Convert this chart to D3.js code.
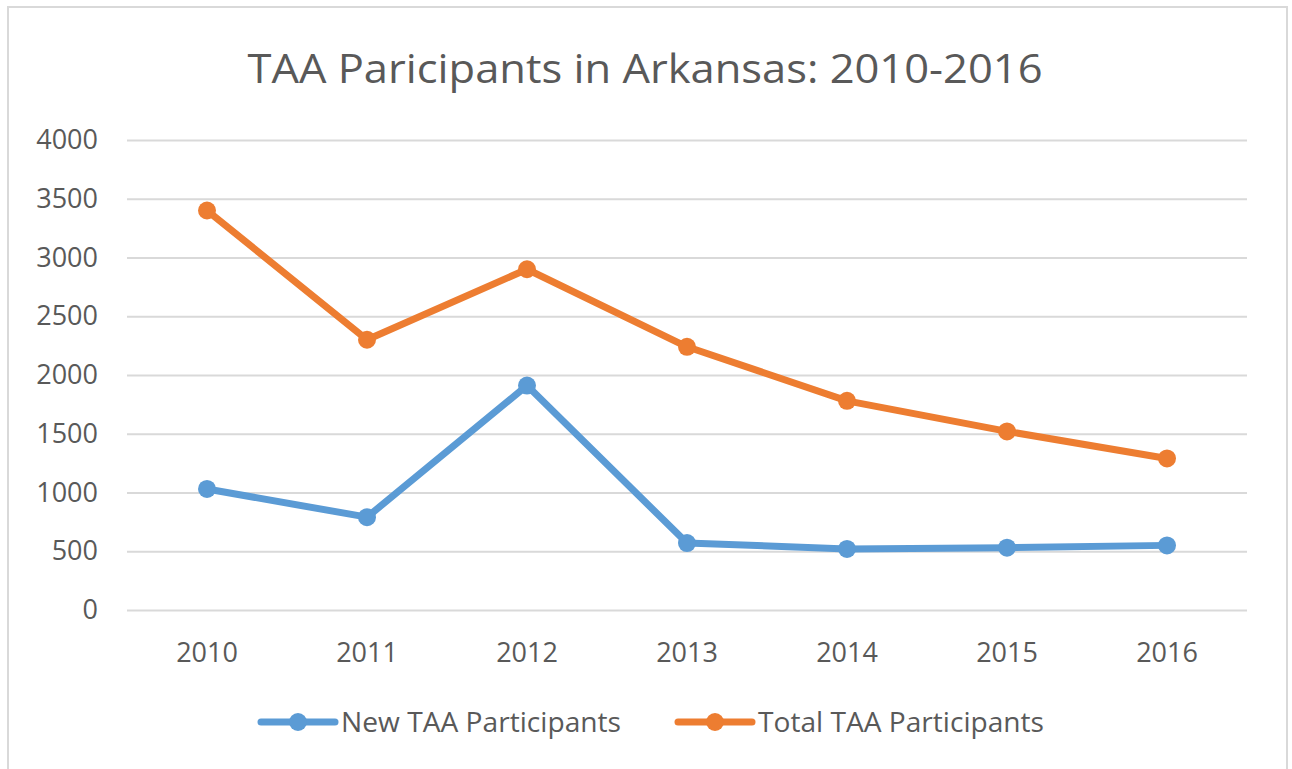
<!DOCTYPE html>
<html>
<head>
<meta charset="utf-8">
<script src="https://cdn.jsdelivr.net/npm/d3@7"></script>
<style>
  body { margin: 0; background: #fff; }
  text { font-family: "Open Sans", sans-serif; fill: #595959; }
</style>
</head>
<body>
<div id="vis1"></div>
<script>
// data
const YEARS = ["2010", "2011", "2012", "2013", "2014", "2015", "2016"];
const NEW_TAA = [1030, 790, 1910, 570, 520, 530, 550];
const TOTAL_TAA = [3400, 2300, 2900, 2240, 1780, 1520, 1290];
const Y_TICKS = [0, 500, 1000, 1500, 2000, 2500, 3000, 3500, 4000];
const SERIES_NAMES = ["New TAA Participants", "Total TAA Participants"];

//frame
const FRAME_WIDTH = 1292;
const FRAME_HEIGHT = 769;
const MARGINS = {left: 127, right: 45, top: 140, bottom: 159};
const VIS_WIDTH = FRAME_WIDTH - MARGINS.left - MARGINS.right;
const VIS_HEIGHT = FRAME_HEIGHT - MARGINS.top - MARGINS.bottom;

const COLORS = ["#5B9BD5", "#ED7D31"];

const FRAME1 = d3.select("#vis1")
                  .append("svg")
                    .attr("width", FRAME_WIDTH)
                    .attr("height", FRAME_HEIGHT);

// outer chart border
FRAME1.append("rect")
    .attr("x", 8).attr("y", 7)
    .attr("width", 1279).attr("height", 780)
    .attr("fill", "#fff")
    .attr("stroke", "#d9d9d9")
    .attr("stroke-width", 2);

// title
FRAME1.append("text")
    .attr("x", 645)
    .attr("y", 83)
    .attr("text-anchor", "middle")
    .attr("font-size", "40px")
    .attr("textLength", 795)
    .attr("lengthAdjust", "spacingAndGlyphs")
    .text("TAA Paricipants in Arkansas: 2010-2016");

//scales
const X_SCALE = d3.scaleBand()
                .domain(YEARS)
                .range([0, VIS_WIDTH]);
const Y_SCALE = d3.scaleLinear()
                .domain([0, 4000])
                .range([VIS_HEIGHT, 0]);

const plot = FRAME1.append("g")
    .attr("transform", "translate(" + MARGINS.left + "," + MARGINS.top + ")");

// gridlines via y axis
const yAxis = plot.append("g")
    .call(d3.axisLeft(Y_SCALE).tickValues(Y_TICKS)
            .tickFormat(d3.format("d"))
            .tickSize(-VIS_WIDTH).tickPadding(29));
yAxis.select(".domain").remove();
yAxis.selectAll(".tick line")
    .attr("stroke", "#d9d9d9")
    .attr("stroke-width", 2);
yAxis.selectAll(".tick text")
    .attr("font-size", "27px")
    .attr("font-family", "Open Sans, sans-serif")
    .attr("fill", "#595959");

// x axis labels
const xAxis = plot.append("g")
    .attr("transform", "translate(0," + VIS_HEIGHT + ")")
    .call(d3.axisBottom(X_SCALE).tickSize(0).tickPadding(33));
xAxis.select(".domain").remove();
xAxis.selectAll(".tick text")
    .attr("font-size", "27px")
    .attr("font-family", "Open Sans, sans-serif")
    .attr("fill", "#595959");

const xc = (i) => X_SCALE(YEARS[i]) + X_SCALE.bandwidth() / 2;

const line = d3.line()
    .x((d, i) => xc(i))
    .y((d) => Y_SCALE(d));

[NEW_TAA, TOTAL_TAA].forEach((vals, s) => {
  plot.append("path")
      .datum(vals)
      .attr("d", line)
      .attr("fill", "none")
      .attr("stroke", COLORS[s])
      .attr("stroke-width", 7)
      .attr("stroke-linejoin", "round");
  plot.selectAll(".pt" + s)
      .data(vals)
      .enter()
      .append("circle")
        .attr("cx", (d, i) => xc(i))
        .attr("cy", (d) => Y_SCALE(d))
        .attr("r", 9)
        .attr("fill", COLORS[s]);
});

// legend
const LEGEND_X = [261, 678];
const LEGEND_TEXT_W = [280, 286];
const legend = FRAME1.selectAll(".legend")
    .data(SERIES_NAMES)
    .enter()
    .append("g")
      .attr("transform", (d, i) => "translate(" + LEGEND_X[i] + ",722)");
legend.append("line")
    .attr("x1", 0).attr("x2", 74)
    .attr("y1", 0).attr("y2", 0)
    .attr("stroke", (d, i) => COLORS[i])
    .attr("stroke-width", 7)
    .attr("stroke-linecap", "round");
legend.append("circle")
    .attr("cx", 37).attr("cy", 0).attr("r", 9)
    .attr("fill", (d, i) => COLORS[i]);
legend.append("text")
    .attr("x", 80)
    .attr("y", 10)
    .attr("font-size", "27px")
    .attr("textLength", (d, i) => LEGEND_TEXT_W[i])
    .attr("lengthAdjust", "spacingAndGlyphs")
    .text((d) => d);
</script>
</body>
</html>
